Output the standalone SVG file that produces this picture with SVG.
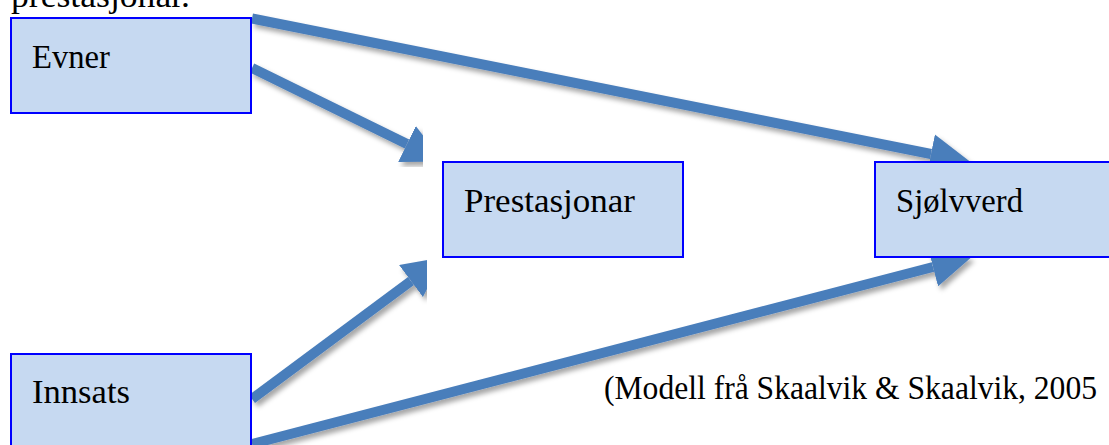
<svg xmlns="http://www.w3.org/2000/svg" width="1109" height="445" viewBox="0 0 1109 445">
  <style>
    .box { fill: #c6d9f1; stroke: #0000ff; stroke-width: 2; }
    .lbl { font-family: "Liberation Serif", "DejaVu Serif", serif; font-size: 33px; fill: #000000; }
    .conn { stroke: #4a7ebb; stroke-width: 10; fill: none; marker-end: url(#ah); filter: url(#sh); }
  </style>
  <defs>
    <marker id="ah" viewBox="0 -2 4 4" refX="0" refY="0" markerWidth="4" markerHeight="4" orient="auto" markerUnits="strokeWidth">
      <path d="M0,-2 L4,0 L0,2 z" fill="#4a7ebb"/>
    </marker>
    <filter id="sh" x="-10%" y="-30%" width="120%" height="160%">
      <feDropShadow dx="3" dy="4" stdDeviation="2.5" flood-color="#000000" flood-opacity="0.35"/>
    </filter>
  </defs>

  <text class="lbl" x="11" y="7" textLength="179" lengthAdjust="spacingAndGlyphs">prestasjonar.</text>

  <g id="connectors">
    <path class="conn" d="M252,18.5 L931,154"/>
    <path class="conn" d="M252,68 L407,144"/>
    <path class="conn" d="M683,210 L835,210"/>
    <path class="conn" d="M252,399 L411,281"/>
    <path class="conn" d="M252,444 L933,267"/>
  </g>

  <g id="node-evner">
    <rect class="box" x="11" y="18" width="240" height="95"/>
    <text class="lbl" x="32" y="68" textLength="78" lengthAdjust="spacingAndGlyphs">Evner</text>
  </g>
  <g id="node-prestasjonar">
    <rect class="box" x="443" y="162" width="240" height="95"/>
    <text class="lbl" x="464" y="212" textLength="171" lengthAdjust="spacingAndGlyphs">Prestasjonar</text>
  </g>
  <g id="node-sjolvverd">
    <rect class="box" x="875" y="162" width="240" height="95"/>
    <text class="lbl" x="896" y="212" textLength="127" lengthAdjust="spacingAndGlyphs">Sjølvverd</text>
  </g>
  <g id="node-innsats">
    <rect class="box" x="11" y="354" width="240" height="95"/>
    <text class="lbl" x="32" y="403" textLength="98" lengthAdjust="spacingAndGlyphs">Innsats</text>
  </g>

  <text class="lbl" x="604" y="399" textLength="493" lengthAdjust="spacingAndGlyphs">(Modell frå Skaalvik &amp; Skaalvik, 2005</text>
</svg>
